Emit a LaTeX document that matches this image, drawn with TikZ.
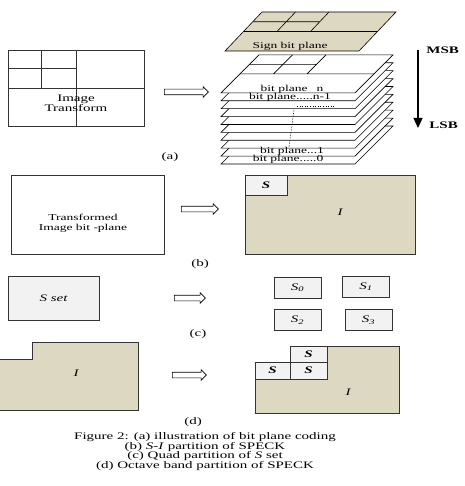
\documentclass[tikz,border=0pt]{standalone}
\usepackage{fontspec}
\setmainfont{Liberation Serif}[FakeStretch=1.5]
\usetikzlibrary{arrows.meta, positioning, shapes.arrows, calc}
\definecolor{ctan}{HTML}{DCD8C1}
\definecolor{cgrey}{HTML}{F2F2F2}
\definecolor{cline}{HTML}{333333}
\tikzset{
  every picture/.style={line width=0.8pt},
  box/.style={draw=cline, fill=#1, inner sep=0pt, align=center},
  box/.default=white,
  blockarrow/.style={single arrow, draw=black, fill=white, line width=0.6pt, inner sep=0pt, single arrow head extend=2.5pt, single arrow head indent=0pt},
  note/.style={font=\fontsize{10}{9.7}\selectfont, align=center, inner sep=0pt},
  planetxt/.style={font=\fontsize{9}{9}\selectfont, inner sep=0pt},
  plane/.style={fill=#1, draw=black, line width=0.6pt},
  plane/.default=white,
}
\newcommand{\shaft}{\rule{0pt}{5pt}}
\begin{document}
\begin{tikzpicture}[x=1pt, y=-1pt]
  \useasboundingbox (0,0) rectangle (464,486);
  % (a) bit plane coding
  \node[box, minimum width=136pt, minimum height=76pt] (imgtf) at (76,88) {};
  \draw[cline] (imgtf.north) -- (imgtf.south) (imgtf.west) -- (imgtf.east);
  \draw[cline] ($(imgtf.north west)!0.5!(imgtf.north)$) -- ($(imgtf.west)!0.5!(imgtf.center)$);
  \draw[cline] ($(imgtf.north west)!0.5!(imgtf.west)$) -- ($(imgtf.north)!0.5!(imgtf.center)$);
  \node[note] (imgtxt) at (76,103) {Image\\Transform};
  \node[blockarrow, minimum height=44pt] (arra) at (185,92) {\shaft};
  % stack of bit planes, bottom one first
  \foreach \i in {0,...,9} {
    \begin{scope}[shift={(221,164-7.9*\i)}, x={(134pt,0pt)}, y={(38pt,38pt)}]
      \draw[plane] (0,0) -- (1,0) -- (1,1) -- (0,1) -- cycle;
    \end{scope}
  }
  \begin{scope}[shift={(221,92.9)}, x={(134pt,0pt)}, y={(38pt,38pt)}]
    \draw[line width=0.6pt] (0,0.5) -- (1,0.5) (0.5,0.5) -- (0.5,1) (0,0.75) -- (0.5,0.75) (0.25,0.5) -- (0.25,1);
  \end{scope}
  \begin{scope}[shift={(225,51)}, x={(134pt,0pt)}, y={(37pt,39pt)}]
    \draw[plane=ctan] (0,0) -- (1,0) -- (1,1) -- (0,1) -- cycle;
    \draw[line width=0.6pt] (0,0.5) -- (1,0.5) (0.5,0.5) -- (0.5,1) (0,0.75) -- (0.5,0.75) (0.25,0.5) -- (0.25,1);
  \end{scope}
  \node[planetxt] (sign) at (290,46) {Sign bit plane};
  \node[planetxt] (pn) at (292,89) {bit plane\quad n};
  \node[planetxt] (pn1) at (290,97) {bit plane.....n-1};
  \draw[dotted, line width=0.6pt] (297,106) -- (335,106);
  \draw[densely dotted, line width=0.6pt] (294,110) -- (289,147);
  \node[planetxt] (p1) at (292,151) {bit plane...1};
  \node[planetxt] (p0) at (288,159) {bit plane.....0};
  \coordinate (msbpt) at (418,50);
  \coordinate (lsbpt) at (418,128);
  \draw[-{Triangle[length=10pt,width=9pt]}, line width=1.3pt] (msbpt) -- (lsbpt);
  \node[note, font=\fontsize{10}{10}\selectfont\bfseries, anchor=west] (msb) at (426,50) {MSB};
  \node[note, font=\fontsize{10}{10}\selectfont\bfseries, anchor=west] (lsb) at (429,125) {LSB};
  \node[note] (la) at (170,157) {(a)};
  % (b) S-I partition
  \node[box, minimum width=153pt, minimum height=79pt] (tfbox) at (87.5,214.5) {};
  \node[note, font=\fontsize{9}{10}\selectfont] (tftxt) at (83,223) {Transformed\\Image bit -plane};
  \node[blockarrow, minimum height=37pt] (arrb) at (198.5,209) {\shaft};
  \node[box=ctan, minimum width=170pt, minimum height=79pt] (ibox) at (330,214.5) {};
  \node[box=cgrey, minimum width=42pt, minimum height=20pt, anchor=north west, font=\bfseries\itshape] (sbox) at (ibox.north west) {S};
  \node[note, font=\itshape] (ilab) at (340,212) {I};
  \node[note] (lb) at (200,264) {(b)};
  % (c) quad partition
  \node[box=cgrey, minimum width=91pt, minimum height=44pt, font=\itshape] (sset) at (53.5,298) {S set};
  \node[blockarrow, minimum height=31pt] (arrc) at (188.5,298) {\shaft};
  \foreach \name/\x/\y/\k in {s0/297.5/287.5/0, s1/366/286.5/1, s2/297.5/320/2, s3/368.5/320/3}
    \node[box=cgrey, minimum width=47pt, minimum height=21pt] (\name) at (\x,\y) {\textit{S\textsubscript{\k}}};
  \node[note] (lc) at (198,334) {(c)};
  % (d) octave band partition
  \fill[ctan] (0,359) -- (32,359) -- (32,342) -- (138,342) -- (138,410) -- (0,410) -- cycle;
  \draw[cline] (0,359) -- (32,359) -- (32,342) -- (138,342) -- (138,410) -- (0,410);
  \node[note, font=\itshape] (il) at (76,373) {I};
  \node[blockarrow, minimum height=34pt] (arrd) at (188,375) {\shaft};
  \filldraw[fill=ctan, draw=cline] (255,379) -- (255,413) -- (399,413) -- (399,346) -- (327,346) -- (327,379) -- cycle;
  \node[box=cgrey, minimum width=37pt, minimum height=16pt, font=\bfseries\itshape] (sd1) at (308.5,354) {S};
  \node[box=cgrey, minimum width=35pt, minimum height=17pt, font=\bfseries\itshape] (sd2) at (272.5,370.5) {S};
  \node[box=cgrey, minimum width=37pt, minimum height=17pt, font=\bfseries\itshape] (sd3) at (308.5,370.5) {S};
  \node[note, font=\itshape] (ir) at (348,392) {I};
  \node[note] (ld) at (193,422) {(d)};
  % caption
  \node[note] (caption) at (205,451.5) {Figure 2: (a) illustration of bit plane coding\\(b) \textit{S-I} partition of SPECK\\(c) Quad partition of \textit{S} set\\(d) Octave band partition of SPECK};
\end{tikzpicture}
\end{document}
